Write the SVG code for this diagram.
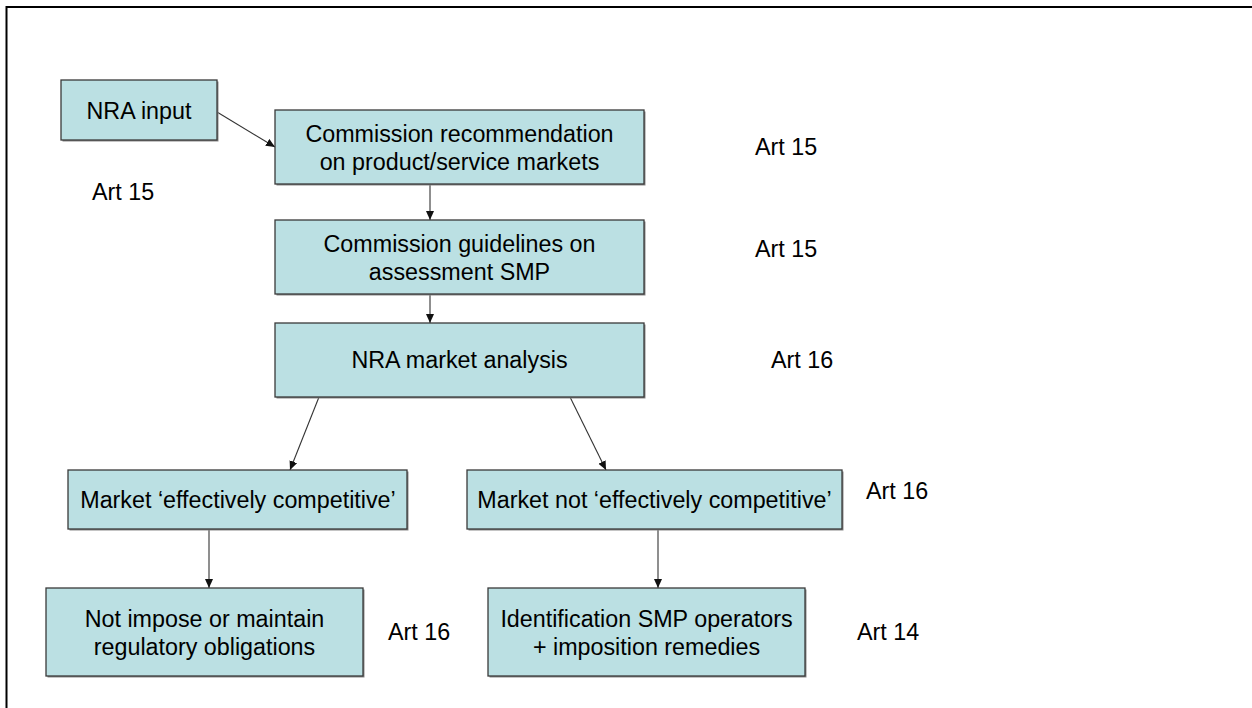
<svg xmlns="http://www.w3.org/2000/svg" width="1252" height="708" viewBox="0 0 1252 708">
<defs>
<style>
.box{fill:#BBE0E3;stroke:#3a3a3a;stroke-width:1.3}
.sh{fill:#8a8a8a}
.t{font-family:"Liberation Sans",Arial,sans-serif;font-size:23.3px;fill:#000;text-anchor:middle}
.a{font-family:"Liberation Sans",Arial,sans-serif;font-size:23.3px;fill:#000}
.c{stroke:#333;stroke-width:1.1;fill:none;marker-end:url(#arr)}
</style>
<marker id="arr" markerUnits="userSpaceOnUse" markerWidth="10" markerHeight="9" refX="9" refY="4" orient="auto">
<path d="M0,0 L9,4 L0,8 Z" fill="#111"/>
</marker>
</defs>
<rect width="1252" height="708" fill="#fff"/>
<path d="M6.5,708 V7 H1252" fill="none" stroke="#000" stroke-width="2"/>

<g id="connectors">
<line class="c" x1="217" y1="112" x2="275" y2="147"/>
<line class="c" x1="430" y1="184" x2="430" y2="220"/>
<line class="c" x1="430" y1="294" x2="430" y2="323"/>
<line class="c" x1="319" y1="397" x2="290" y2="470"/>
<line class="c" x1="570" y1="397" x2="606" y2="470"/>
<line class="c" x1="209" y1="529" x2="209" y2="588"/>
<line class="c" x1="658" y1="529" x2="658" y2="588"/>
</g>

<g id="nra-input">
<rect class="sh" x="62.5" y="81.5" width="156" height="60"/>
<rect class="box" x="61" y="80" width="156" height="60"/>
<text class="t" x="139" y="118.5">NRA input</text>
</g>

<g id="commission-recommendation">
<rect class="sh" x="276.5" y="111.5" width="369" height="74"/>
<rect class="box" x="275" y="110" width="369" height="74"/>
<text class="t" x="459.5" y="142">Commission recommendation</text>
<text class="t" x="459.5" y="169.5">on product/service markets</text>
</g>

<g id="commission-guidelines">
<rect class="sh" x="276.5" y="221.5" width="369" height="74"/>
<rect class="box" x="275" y="220" width="369" height="74"/>
<text class="t" x="459.5" y="252">Commission guidelines on</text>
<text class="t" x="459.5" y="280">assessment SMP</text>
</g>

<g id="nra-market-analysis">
<rect class="sh" x="276.5" y="324.5" width="369" height="74"/>
<rect class="box" x="275" y="323" width="369" height="74"/>
<text class="t" x="459.5" y="368">NRA market analysis</text>
</g>

<g id="market-effective">
<rect class="sh" x="69.5" y="471.5" width="339" height="59"/>
<rect class="box" x="68" y="470" width="339" height="59"/>
<text class="t" x="238" y="508">Market ‘effectively competitive’</text>
</g>

<g id="market-not-effective">
<rect class="sh" x="468.5" y="471.5" width="375" height="59"/>
<rect class="box" x="467" y="470" width="375" height="59"/>
<text class="t" x="654.5" y="508">Market not ‘effectively competitive’</text>
</g>

<g id="not-impose">
<rect class="sh" x="47.5" y="589.5" width="317" height="88"/>
<rect class="box" x="46" y="588" width="317" height="88"/>
<text class="t" x="204.5" y="627">Not impose or maintain</text>
<text class="t" x="204.5" y="654.5">regulatory obligations</text>
</g>

<g id="identification">
<rect class="sh" x="489.5" y="589.5" width="317" height="88"/>
<rect class="box" x="488" y="588" width="317" height="88"/>
<text class="t" x="646.5" y="627">Identification SMP operators</text>
<text class="t" x="646.5" y="654.5">+ imposition remedies</text>
</g>

<g id="labels">
<text class="a" x="92" y="200">Art 15</text>
<text class="a" x="755" y="155">Art 15</text>
<text class="a" x="755" y="257">Art 15</text>
<text class="a" x="771" y="368">Art 16</text>
<text class="a" x="866" y="499">Art 16</text>
<text class="a" x="388" y="640">Art 16</text>
<text class="a" x="857" y="640">Art 14</text>
</g>
</svg>
